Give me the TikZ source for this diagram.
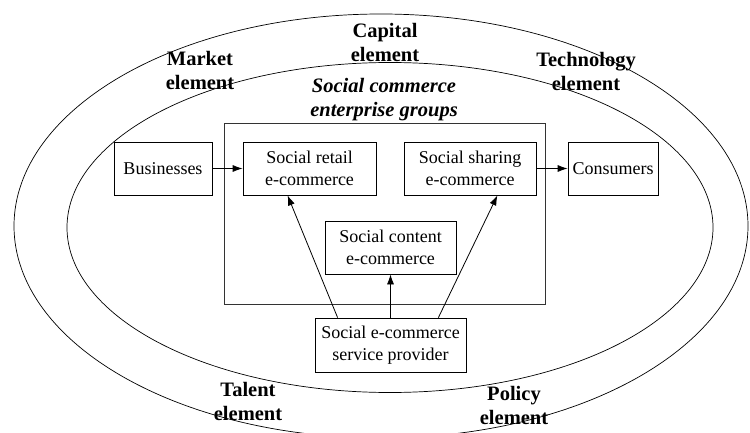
\documentclass[tikz,border=0pt]{standalone}
\usepackage{fontspec}
\setmainfont{Liberation Serif}
\usetikzlibrary{arrows.meta}
\begin{document}
\begin{tikzpicture}[x=1pt,y=-1pt,
  box/.style={draw,line width=0.8pt,minimum height=53pt,inner sep=0pt,align=center,
    font=\fontsize{18}{22}\selectfont},
  elem/.style={align=center,inner sep=0pt,font=\fontsize{20.5}{24}\selectfont\bfseries},
  arr/.style={line width=0.8pt,-{Latex[length=10pt,width=7pt]}},
  ring/.style={line width=0.7pt}]
\useasboundingbox (0,0) rectangle (750,433);

% the two environment rings
\begin{scope}
  \clip (0,0) rectangle (750,433);
  \draw[ring] (381,226) ellipse [x radius=367, y radius=212];
  \draw[ring] (390,227.5) ellipse [x radius=323, y radius=165];
\end{scope}

% element labels
\node[elem] (capital) at (385,42.5) {Capital\\element};
\node[elem] (market) at (200,70) {Market\\element};
\node[elem] (tech) at (586,71.5) {Technology\\element};
\node[elem] (talent) at (248,401.5) {Talent\\element};
\node[elem] (policy) at (514,405) {Policy\\element};
\node[elem,font=\fontsize{20.5}{24}\selectfont\bfseries\itshape] (groupslbl) at (384,100)
  {Social commerce\\enterprise groups};

% enterprise group frame
\draw[line width=0.8pt,draw=black!80] (224,123) rectangle (545,304);

% participants
\node[box,minimum width=98pt] (bus) at (163,168.5) {Businesses};
\node[box,minimum width=133pt] (retail) at (309.5,168.5) {Social retail\\e-commerce};
\node[box,minimum width=132pt] (sharing) at (470,168.5) {Social sharing\\e-commerce};
\node[box,minimum width=90pt] (cons) at (613,168.5) {Consumers};
\node[box,minimum width=131pt] (content) at (390.5,247.5) {Social content\\e-commerce};
\node[box,minimum width=151pt,minimum height=54pt] (prov) at (390.5,345) {Social e-commerce\\service provider};

% flows
\draw[arr] (bus) -- (retail);
\draw[arr] (sharing) -- (cons);
\draw[arr] (prov.north) -- (content.south);
\draw[arr] ([xshift=23pt]prov.north west) -- ([xshift=45pt]retail.south west);
\draw[arr] ([xshift=-28pt]prov.north east) -- ([xshift=-39pt]sharing.south east);
\end{tikzpicture}
\end{document}
